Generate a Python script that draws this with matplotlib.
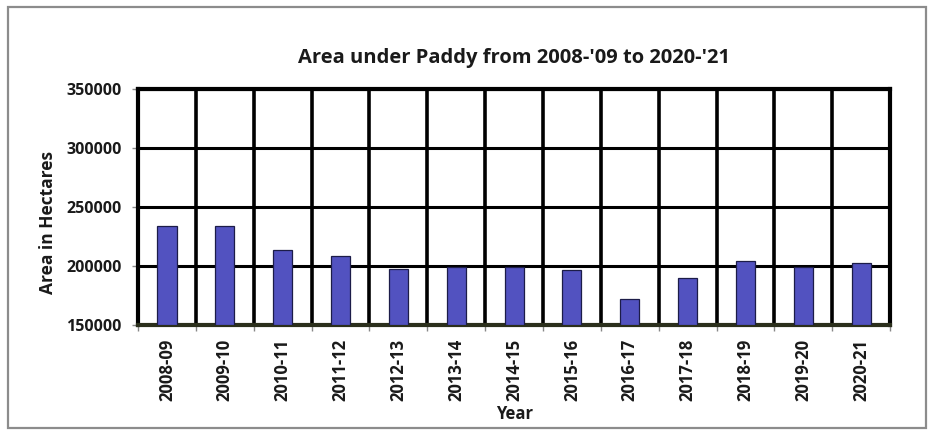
import numpy as np
import matplotlib
matplotlib.use("Agg")
import matplotlib.pyplot as plt
from matplotlib.patches import Rectangle

years = ["2008-09", "2009-10", "2010-11", "2011-12", "2012-13", "2013-14",
         "2014-15", "2015-16", "2016-17", "2017-18", "2018-19", "2019-20",
         "2020-21"]
area_ha = [234000, 234000, 213500, 208500, 197500, 199000,
           198800, 196600, 171800, 189600, 204000, 198800, 202300]
y_ticks = [150000, 200000, 250000, 300000, 350000]

plt.rcParams["font.family"] = ["Open Sans", "DejaVu Sans"]
plt.rcParams["font.weight"] = "bold"

fig = plt.figure(figsize=(9.33, 4.34), dpi=100)
ax = fig.add_axes([0.148, 0.251, 0.806, 0.544])

# grey border round the whole chart
fig.patches.append(Rectangle((0.009, 0.014), 0.984, 0.970, transform=fig.transFigure,
                             fill=False, edgecolor="#8c8c8c", linewidth=1.6))

x = np.arange(len(years))
ax.bar(x, np.array(area_ha) - y_ticks[0], bottom=y_ticks[0], width=0.33,
       color="#5252c0", edgecolor="#1c1c48", linewidth=0.9, zorder=3)

ax.set_xlim(-0.5, len(years) - 0.5)
ax.set_ylim(y_ticks[0], y_ticks[-1])
ax.set_yticks(y_ticks)
ax.set_yticklabels([str(v) for v in y_ticks], fontsize=11.5, fontweight="bold",
                   color="#1a1a1a")
ax.set_xticks(x)
ax.set_xticklabels(years, rotation=90, fontsize=12, fontweight="bold",
                   color="#1a1a1a")
ax.set_xticks(np.arange(-0.5, len(years)), minor=True)

ax.tick_params(axis="x", which="major", length=0, pad=10)
ax.tick_params(axis="x", which="minor", length=4, color="#888888", width=1)
ax.tick_params(axis="y", length=4, color="#888888", width=1, pad=8)

ax.grid(True, axis="y", which="major", color="black", linewidth=2.2, zorder=1)
ax.grid(True, axis="x", which="minor", color="black", linewidth=2.6, zorder=1)
ax.set_axisbelow(True)

for side in ["top", "left", "right"]:
    ax.spines[side].set_linewidth(3)
    ax.spines[side].set_color("black")
ax.spines["bottom"].set_linewidth(3)
ax.spines["bottom"].set_color("#2b2f1c")

ax.set_title("Area under Paddy from 2008-'09 to 2020-'21", fontsize=14.5,
             fontweight="bold", pad=19, color="#1a1a1a")
ax.set_ylabel("Area in Hectares", fontsize=12.5, fontweight="bold", color="#1a1a1a")
ax.yaxis.set_label_coords(-0.108, 0.436)
ax.set_xlabel("Year", fontsize=12, fontweight="bold", labelpad=3,
              color="#1a1a1a")

fig.savefig("out.png", dpi=100)
